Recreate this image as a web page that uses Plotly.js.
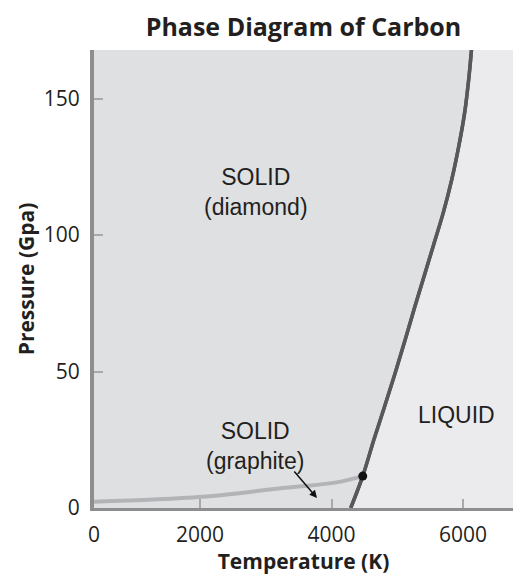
<!DOCTYPE html>
<html>
<head>
<meta charset="utf-8">
<script src="https://cdn.plot.ly/plotly-3.0.1.min.js"></script>
<style>html,body{margin:0;padding:0;background:#fff;}#chart{width:513px;height:575px;}</style>
</head>
<body>
<div id="chart"></div>
<script>
// Melting curve (solid -> liquid), temperature K / pressure GPa
const meltT = [4292, 4475, 4643, 4806, 4966, 5118, 5267, 5422, 5551, 5703, 5833, 5939, 6027, 6088, 6131];
const meltP = [0, 11.7, 24.9, 37.1, 49.3, 61.5, 73.7, 86.0, 96.3, 108.5, 120.8, 133.0, 145.2, 157.4, 168.5];
// Graphite / diamond boundary
const graphT = [388, 2026, 3293, 4053, 4475];
const graphP = [2.3, 4.1, 7.4, 9.3, 11.7];
// Triple point
const tripleT = [4475];
const tripleP = [11.7];
// Axis ticks
const xTickVals = [388, 2000, 4000, 6000];
const xTickText = ["0", "2000", "4000", "6000"];
const yTickVals = [0, 50, 100, 150];
const yTickText = ["0", "50", "100", "150"];
// Region labels
const labelText = ["SOLID<br>(diamond)", "SOLID<br>(graphite)", "LIQUID"];
const labelT = [2852, 2837, 5904];
const labelP = [115.8, 22.7, 34.1];
// Arrow (tail -> head)
const arrowTail = [3414, 13.9];
const arrowHead = [3779, 3.7];

const traces = [
  {
    x: meltT, y: meltP, type: 'scatter', mode: 'lines',
    fill: 'tozerox', fillcolor: '#dfe0e2',
    line: {color: '#58585b', width: 3.5, shape: 'spline', smoothing: 1.0},
    hoverinfo: 'skip', showlegend: false
  },
  {
    x: graphT, y: graphP, type: 'scatter', mode: 'lines',
    line: {color: '#b3b4b7', width: 4, shape: 'spline', smoothing: 1.0},
    hoverinfo: 'skip', showlegend: false
  },
  {
    x: meltT, y: meltP, type: 'scatter', mode: 'lines',
    line: {color: '#58585b', width: 3.5, shape: 'spline', smoothing: 1.0},
    hoverinfo: 'skip', showlegend: false
  },
  {
    x: tripleT, y: tripleP, type: 'scatter', mode: 'markers',
    marker: {color: '#111', size: 9},
    hoverinfo: 'skip', showlegend: false
  }
];

const annotations = labelText.map((t, i) => ({
  x: labelT[i], y: labelP[i], xref: 'x', yref: 'y', text: t, showarrow: false,
  font: {family: 'Liberation Sans, Arial, sans-serif', size: 23, color: '#231f20'},
  xanchor: 'center', yanchor: 'middle'
}));
annotations.push({
  x: arrowHead[0], y: arrowHead[1], ax: arrowTail[0], ay: arrowTail[1],
  xref: 'x', yref: 'y', axref: 'x', ayref: 'y', text: '', showarrow: true,
  arrowhead: 2, arrowsize: 1, arrowwidth: 1.5, arrowcolor: '#111'
});

const tickFont = {family: 'Open Sans, sans-serif', size: 21, color: '#231f20'};
const titleFont = {family: 'Open Sans, sans-serif', size: 21, color: '#231f20'};

const layout = {
  width: 513, height: 575,
  margin: {l: 94, r: 0, t: 50, b: 67, pad: 0},
  paper_bgcolor: '#ffffff', plot_bgcolor: '#ebebed',
  title: {
    text: '<b>Phase Diagram of Carbon</b>',
    font: {family: 'Open Sans, sans-serif', size: 25, color: '#231f20'},
    x: 0.5, xref: 'paper', y: 1 - 27 / 575, yref: 'container', yanchor: 'middle'
  },
  xaxis: {
    range: [388, 6760], tickvals: xTickVals, ticktext: xTickText,
    showgrid: false, zeroline: false,
    showline: true, linecolor: '#8e8e90', linewidth: 3,
    ticks: 'inside', ticklen: 9, tickwidth: 2, tickcolor: '#a9a9ab',
    tickfont: tickFont, ticklabelstandoff: 6,
    title: {text: '<b>Temperature (K)</b>', font: titleFont, standoff: 4}
  },
  yaxis: {
    range: [0, 167.8], tickvals: yTickVals, ticktext: yTickText,
    showgrid: false, zeroline: false,
    showline: true, linecolor: '#8e8e90', linewidth: 4,
    ticks: 'inside', ticklen: 9, tickwidth: 2, tickcolor: '#a9a9ab',
    tickfont: tickFont, ticklabelstandoff: 6,
    title: {text: '<b>Pressure (Gpa)</b>', font: titleFont, standoff: 4}
  },
  annotations: annotations
};

Plotly.newPlot('chart', traces, layout, {staticPlot: true, displayModeBar: false});
</script>
</body>
</html>
